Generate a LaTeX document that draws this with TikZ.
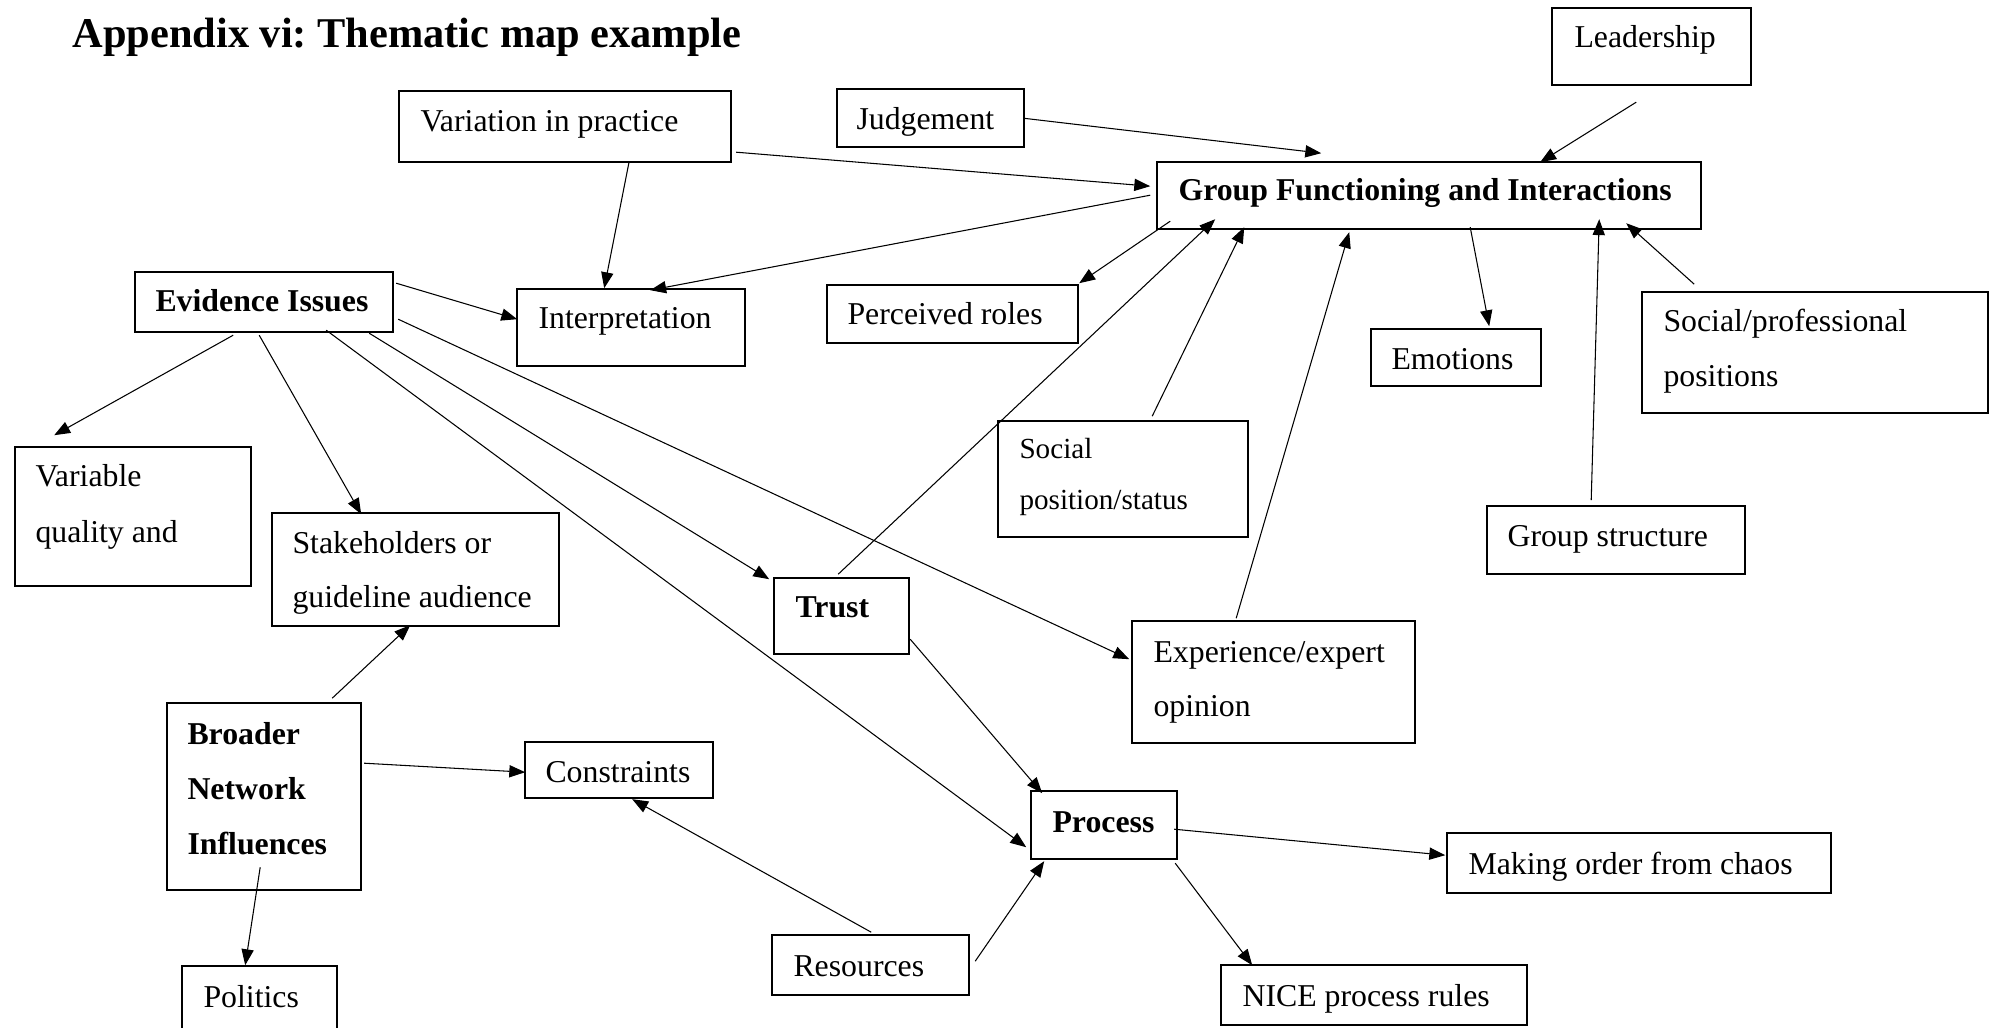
\documentclass[tikz,border=0pt]{standalone}
\usepackage{fontspec}
\setmainfont{Liberation Serif}
\usetikzlibrary{arrows.meta,calc,fit}
\frenchspacing

\tikzset{
  box/.style={draw, line width=0.6pt, inner sep=0pt, rectangle},
  txt/.style={inner sep=0pt, anchor=base west, font=\fontsize{12}{14}\selectfont},
  txtsmall/.style={txt, font=\fontsize{11}{13}\selectfont},
  txtbold/.style={txt, font=\fontsize{12}{14}\selectfont\bfseries},
  link/.style={line width=0.4pt, -{Triangle[length=6pt,width=4.6pt]}},
}

% draws a framed box from its two corners (in px units)
\newcommand{\mapbox}[5]{\node[box, fit={(#2,#3) (#4,#5)}] (#1) {};}

\begin{document}
\begin{tikzpicture}[x=0.3774pt, y=-0.3774pt]
\useasboundingbox (0,0) rectangle (1998,1028);
\clip (0,0) rectangle (1998,1028);
\fill[white] (0,0) rectangle (1998,1028);

% heading
\node[inner sep=0pt, anchor=base west, font=\fontsize{16}{19}\selectfont\bfseries] (title) at (72,48) {Appendix vi: Thematic map example};

% boxes
\mapbox{lead}{1552}{8}{1751}{85}
\mapbox{judg}{837}{89}{1024}{147}
\mapbox{vip}{399}{91}{731}{162}
\mapbox{gfi}{1157}{162}{1701}{229}
\mapbox{evid}{135}{272}{393}{332}
\mapbox{interp}{517}{289}{745}{366}
\mapbox{perc}{827}{285}{1078}{343}
\mapbox{emot}{1371}{329}{1541}{386}
\mapbox{socprof}{1642}{292}{1988}{413}
\mapbox{socstat}{998}{421}{1248}{537}
\mapbox{gstruct}{1487}{506}{1745}{574}
\mapbox{varq}{15}{447}{251}{586}
\mapbox{stake}{272}{513}{559}{626}
\mapbox{trust}{774}{578}{909}{654}
\mapbox{exper}{1132}{621}{1415}{743}
\mapbox{broad}{167}{703}{361}{890}
\mapbox{constr}{525}{742}{713}{798}
\mapbox{polit}{182}{966}{337}{1060}
\mapbox{resrc}{772}{935}{969}{995}
\mapbox{proc}{1031}{791}{1177}{859}
\mapbox{order}{1447}{833}{1831}{893}
\mapbox{nice}{1221}{965}{1527}{1025}

% box texts
\node[txt] (lead-t) at (1574,48) {Leadership};
\node[txt] (judg-t) at (856,130) {Judgement};
\node[txt] (vip-t) at (420,132) {Variation in practice};
\node[txtbold] (gfi-t) at (1178,201) {Group Functioning and Interactions};
\node[txtbold] (evid-t) at (155,312) {Evidence Issues};
\node[txt] (interp-t) at (538,329) {Interpretation};
\node[txt] (perc-t) at (847,325) {Perceived roles};
\node[txt] (emot-t) at (1391,370) {Emotions};
\node[txt] (socprof-t1) at (1663,332) {Social/professional};
\node[txt] (socprof-t2) at (1663,387) {positions};
\node[txtsmall] (socstat-t1) at (1019,459) {Social};
\node[txtsmall] (socstat-t2) at (1019,510) {position/status};
\node[txt] (gstruct-t) at (1507,547) {Group structure};
\node[txt] (varq-t1) at (35,487) {Variable};
\node[txt] (varq-t2) at (35,543) {quality and};
\node[txt] (stake-t1) at (292,554) {Stakeholders or};
\node[txt] (stake-t2) at (292,608) {guideline audience};
\node[txtbold] (trust-t) at (795,618) {Trust};
\node[txt] (exper-t1) at (1153,662) {Experience/expert};
\node[txt] (exper-t2) at (1153,716) {opinion};
\node[txtbold] (broad-t1) at (187,744) {Broader};
\node[txtbold] (broad-t2) at (187,799) {Network};
\node[txtbold] (broad-t3) at (187,854) {Influences};
\node[txt] (constr-t) at (545,782) {Constraints};
\node[txt] (polit-t) at (203,1007) {Politics};
\node[txt] (resrc-t) at (793,976) {Resources};
\node[txtbold] (proc-t) at (1052,832) {Process};
\node[txt] (order-t) at (1468,874) {Making order from chaos};
\node[txt] (nice-t) at (1242,1006) {NICE process rules};

% connectors
\draw[link] ($(vip.north west)+(231,71)$) -- ($(interp.north west)+(88,0)$);
\draw[link] ($(vip.north west)+(338,62)$) -- ($(gfi.north west)+(-6,25)$);
\draw[link] ($(gfi.north west)+(-6,34)$) -- ($(interp.north west)+(134,2)$);
\draw[link] ($(judg.north west)+(187,30)$) -- ($(gfi.north west)+(165,-8)$);
\draw[link] ($(lead.north west)+(85,95)$) -- ($(gfi.north west)+(384,1)$);
\draw[link] ($(gfi.north west)+(14,60)$) -- ($(perc.north west)+(253,-1)$);
\draw[link] ($(trust.north west)+(65,-3)$) -- ($(gfi.north west)+(59,58)$);
\draw[link] ($(socstat.north west)+(155,-4)$) -- ($(gfi.north west)+(88,66)$);
\draw[link] ($(exper.north west)+(105,-2)$) -- ($(gfi.north west)+(193,71)$);
\draw[link] ($(gfi.north west)+(314,66)$) -- ($(emot.north west)+(119,-2)$);
\draw[link] ($(gstruct.north west)+(105,-5)$) -- ($(gfi.north west)+(443,58)$);
\draw[link] ($(socprof.north west)+(53,-7)$) -- ($(gfi.north west)+(470,62)$);

\draw[link] ($(evid.north west)+(262,12)$) -- ($(interp.north west)+(1,31)$);
\draw[link] ($(evid.north west)+(99,64)$) -- ($(varq.north west)+(40,-11)$);
\draw[link] ($(evid.north west)+(125,64)$) -- ($(stake.north west)+(90,2)$);
\draw[link] ($(evid.north west)+(192,59)$) -- ($(proc.north west)+(-4,57)$);
\draw[link] ($(evid.north west)+(235,62)$) -- ($(trust.north west)+(-4,2)$);
\draw[link] ($(evid.north west)+(264,48)$) -- ($(exper.north west)+(-2,39)$);

\draw[link] ($(broad.north west)+(166,-4)$) -- ($(stake.north west)+(139,113)$);
\draw[link] ($(broad.north west)+(198,61)$) -- ($(constr.north west)+(1,31)$);
\draw[link] ($(broad.north west)+(94,165)$) -- ($(polit.north west)+(64,0)$);

\draw[link] ($(resrc.north west)+(100,-2)$) -- ($(constr.north west)+(108,58)$);
\draw[link] ($(resrc.north west)+(204,27)$) -- ($(proc.north west)+(14,71)$);
\draw[link] ($(trust.north west)+(137,62)$) -- ($(proc.north west)+(12,3)$);
\draw[link] ($(proc.north west)+(144,39)$) -- ($(order.north west)+(-1,23)$);
\draw[link] ($(proc.north west)+(145,73)$) -- ($(nice.north west)+(32,1)$);
\end{tikzpicture}
\end{document}
